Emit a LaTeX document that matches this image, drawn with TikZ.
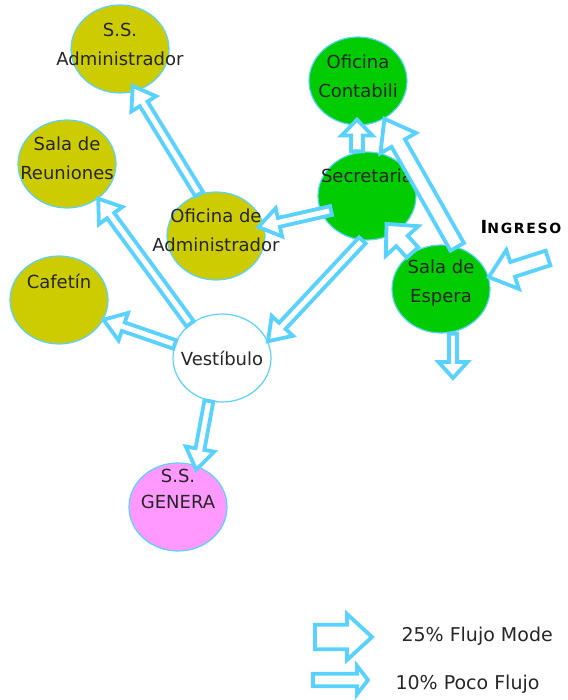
\documentclass[tikz,border=0pt]{standalone}
\usepackage{fontspec}
\setmainfont{DejaVu Sans}
\newfontfamily\ingfont[LetterSpace=12]{DejaVu Sans}
\usetikzlibrary{shapes.geometric,calc}
\definecolor{celeste}{RGB}{90,210,255}
\definecolor{olivo}{RGB}{204,204,0}
\definecolor{verde}{RGB}{0,204,0}
\definecolor{rosa}{RGB}{255,153,255}
\tikzset{
  sala/.style={ellipse, draw=celeste, line width=1.2pt, minimum width=98pt, minimum height=88pt, inner sep=0pt},
  rotulo/.style={align=center, font=\fontsize{18}{29}\selectfont, text=black!85},
  flujo/.style={draw=celeste, fill=white, line width=3.8pt, line join=miter}
}
% hollow block arrow: from, to, half shaft, half head, head length
\newcommand{\flecha}[5]{%
  \draw[flujo] let \p1=(#1), \p2=(#2), \n1={atan2(\y2-\y1,\x2-\x1)},
      \n2={veclen(\x2-\x1,\y2-\y1)-#5}, \p3=($(\p1)+(\n1:\n2)$) in
    ($(\p1)+({\n1+90}:#3pt)$) -- ($(\p3)+({\n1+90}:#3pt)$) -- ($(\p3)+({\n1+90}:#4pt)$) -- (\p2)
    -- ($(\p3)+({\n1-90}:#4pt)$) -- ($(\p3)+({\n1-90}:#3pt)$) -- ($(\p1)+({\n1-90}:#3pt)$) -- cycle;}
\begin{document}
\begin{tikzpicture}[x=1pt,y=-1pt]
  \useasboundingbox (0,0) rectangle (567,700);
  % rooms
  \node[sala, fill=olivo] (ssadm) at (120,49) {};
  \node[sala, fill=olivo] (reun) at (67,164) {};
  \node[sala, fill=olivo] (cafe) at (59,300) {};
  \node[sala, fill=olivo] (ofadm) at (216,236) {};
  \node[sala, fill=verde] (contab) at (358,81) {};
  \node[sala, fill=verde] (secr) at (367,196) {};
  \node[sala, fill=verde] (espera) at (441,289) {};
  \node[sala, fill=white] (vest) at (222,358) {};
  \node[sala, fill=rosa] (genera) at (178,507) {};
  \node[rotulo] at ([yshift=5pt]ssadm.center) {S.S.\\Administrador};
  \node[rotulo] at ([yshift=6pt]reun.center) {Sala de\\Reuniones};
  \node[rotulo] at ([yshift=19pt]cafe.center) {Cafetín};
  \node[rotulo] at ([yshift=6pt]ofadm.center) {Oficina de\\Administrador};
  \node[rotulo] at ([yshift=5pt]contab.center) {Oficina\\Contabili};
  \node[rotulo] at ([yshift=20pt]secr.center) {Secretaria};
  \node[rotulo] at ([yshift=6pt]espera.center) {Sala de\\Espera};
  \node[rotulo] at (vest.center) {Vestíbulo};
  \node[rotulo, font=\fontsize{18}{26}\selectfont] at ([yshift=18pt]genera.center) {S.S.\\GENERA};
  \node (ingreso) at (521,227) {\ingfont\bfseries\fontsize{18}{18}\selectfont I\fontsize{14}{14}\selectfont NGRESO};
  \coordinate (entrada) at (548,258);
  \coordinate (salida) at (453,378);
  % flows
  \flecha{ofadm.112}{$(ssadm.289)!6pt!(ssadm.center)$}{4.5}{14.5}{21}
  \flecha{vest.133}{reun.312}{4.5}{14.5}{21}
  \flecha{vest.164}{cafe.336}{4.5}{14.5}{21}
  \flecha{$(secr.202)!10pt!(secr.center)$}{$(ofadm.12)!6pt!(ofadm.center)$}{4.5}{14.5}{21}
  \flecha{secr.264}{vest.20}{4.5}{14.5}{21}
  \flecha{vest.253}{$(genera.64)!4pt!(genera.center)$}{4.5}{14.5}{21}
  \flecha{$(secr.north)+(-10,0)$}{$(contab.south)+(-1,-6)$}{6}{15.5}{16}
  \flecha{espera.69}{contab.305}{7.7}{20.5}{28}
  \flecha{espera.128}{$(secr.305)!12pt!(secr.center)$}{7.7}{22}{23}
  \flecha{entrada}{espera.14}{7.7}{20.5}{25}
  \flecha{$(espera.south)+(12,0)$}{salida}{4}{14.5}{16}
  % legend
  \flecha{315,637}{372,637}{12.2}{23}{25}
  \flecha{313,680}{368,680}{6.2}{14.2}{11}
  \node[rotulo, font=\fontsize{19}{19}\selectfont, anchor=west] (ley25) at (398,636) {25\% Flujo Mode};
  \node[rotulo, font=\fontsize{19}{19}\selectfont, anchor=west] (ley10) at (392,684) {10\% Poco Flujo};
\end{tikzpicture}
\end{document}
